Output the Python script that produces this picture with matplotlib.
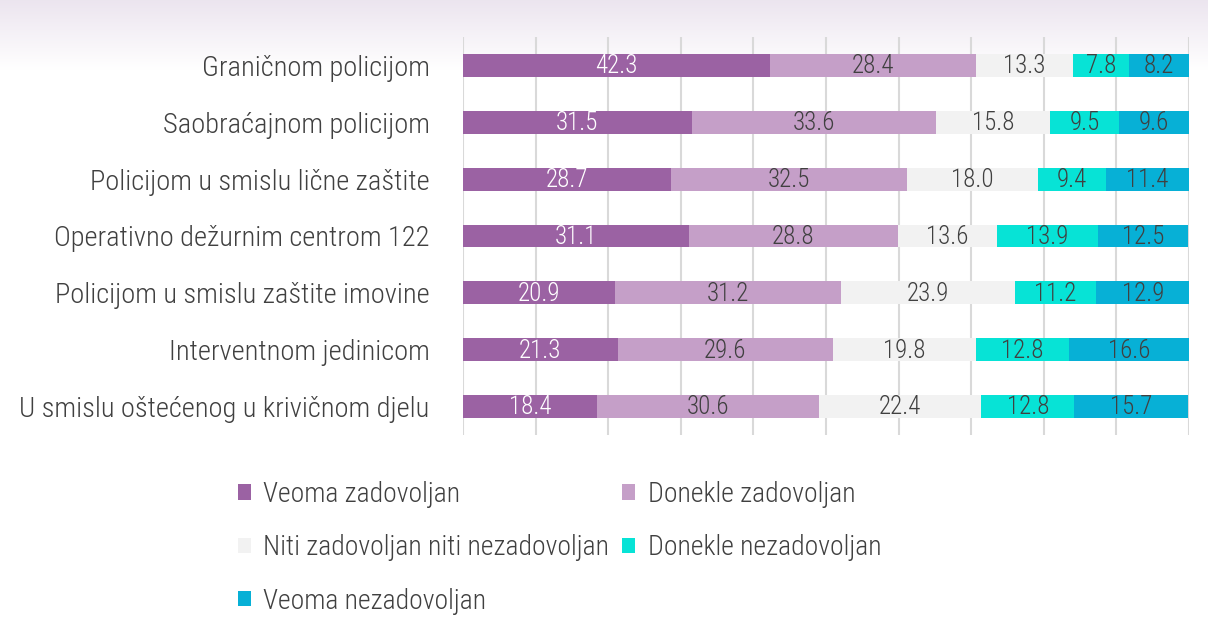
import matplotlib
matplotlib.use("Agg")
import matplotlib.pyplot as plt
import numpy as np
from matplotlib.patches import Patch
from matplotlib import font_manager

categories = [
    "Graničnom policijom",
    "Saobraćajnom policijom",
    "Policijom u smislu lične zaštite",
    "Operativno dežurnim centrom 122",
    "Policijom u smislu zaštite imovine",
    "Interventnom jedinicom",
    "U smislu oštećenog u krivičnom djelu",
]
series_names = [
    "Veoma zadovoljan",
    "Donekle zadovoljan",
    "Niti zadovoljan niti nezadovoljan",
    "Donekle nezadovoljan",
    "Veoma nezadovoljan",
]
veoma_zad = [42.3, 31.5, 28.7, 31.1, 20.9, 21.3, 18.4]
donekle_zad = [28.4, 33.6, 32.5, 28.8, 31.2, 29.6, 30.6]
niti = [13.3, 15.8, 18.0, 13.6, 23.9, 19.8, 22.4]
donekle_nez = [7.8, 9.5, 9.4, 13.9, 11.2, 12.8, 12.8]
veoma_nez = [8.2, 9.6, 11.4, 12.5, 12.9, 16.6, 15.7]
series = [veoma_zad, donekle_zad, niti, donekle_nez, veoma_nez]
colors = ["#9b62a3", "#c59fc8", "#f2f2f2", "#07e3d6", "#07b0d6"]
label_colors = ["white", "#404040", "#404040", "#404040", "#404040"]

avail = {f.name for f in font_manager.fontManager.ttflist}
fam = [f for f in ["Roboto Condensed", "Barlow Condensed", "Roboto", "DejaVu Sans"] if f in avail]
plt.rcParams["font.family"] = fam
plt.rcParams["font.weight"] = 300

W, H = 1208, 630
fig = plt.figure(figsize=(W / 100, H / 100), dpi=100)

# top gradient background
bg = fig.add_axes([0, 1 - 70 / H, 1, 70 / H], zorder=-10)
grad = np.linspace(0, 1, 100).reshape(-1, 1)
top = np.array([0.925, 0.898, 0.937])
bot = np.array([1.0, 1.0, 1.0])
img = top[None, None, :] * (1 - grad[:, :, None]) + bot[None, None, :] * grad[:, :, None]
bg.imshow(img, aspect="auto", extent=[0, 1, 0, 1])
bg.axis("off")

ax = fig.add_axes([463 / W, 1 - 435 / H, (1189 - 463) / W, (435 - 37) / H])
ax.set_facecolor("none")
y = np.arange(len(categories))
left = np.zeros(len(categories))
for vals, c, lc in zip(series, colors, label_colors):
    vals = np.array(vals)
    ax.barh(y, vals, left=left, height=0.4, color=c, zorder=3)
    for yi, (l, v) in enumerate(zip(left, vals)):
        ax.text(l + v / 2, yi + 0.015, f"{v:.1f}", ha="center", va="center",
                color=lc, fontsize=18, zorder=4)
    left += vals

ax.set_xlim(0, 100)
ax.set_ylim(6.5, -0.5)
ax.set_xticks(np.arange(0, 101, 10))
ax.set_xticklabels([])
ax.tick_params(axis="x", length=0)
ax.tick_params(axis="y", length=0, pad=24, labelsize=20.5, labelcolor="#404040")
ax.set_yticks(y)
ax.set_yticklabels(categories)
ax.grid(axis="x", color="#d9d9d9", linewidth=1.5, zorder=0)
for s in ax.spines.values():
    s.set_visible(False)

handles = [Patch(facecolor=c, edgecolor="none") for c in colors]
order = [0, 2, 4, 1, 3]
leg = fig.legend([handles[i] for i in order], [series_names[i] for i in order],
                 loc="upper left", bbox_to_anchor=(224 / W, 1 - 467 / H), ncol=2,
                 frameon=False, fontsize=20, labelcolor="#404040", borderpad=0,
                 handlelength=0.47, handleheight=0.47, handletextpad=0.45,
                 labelspacing=0.95, columnspacing=0.45)

fig.savefig("out.png", dpi=100)
